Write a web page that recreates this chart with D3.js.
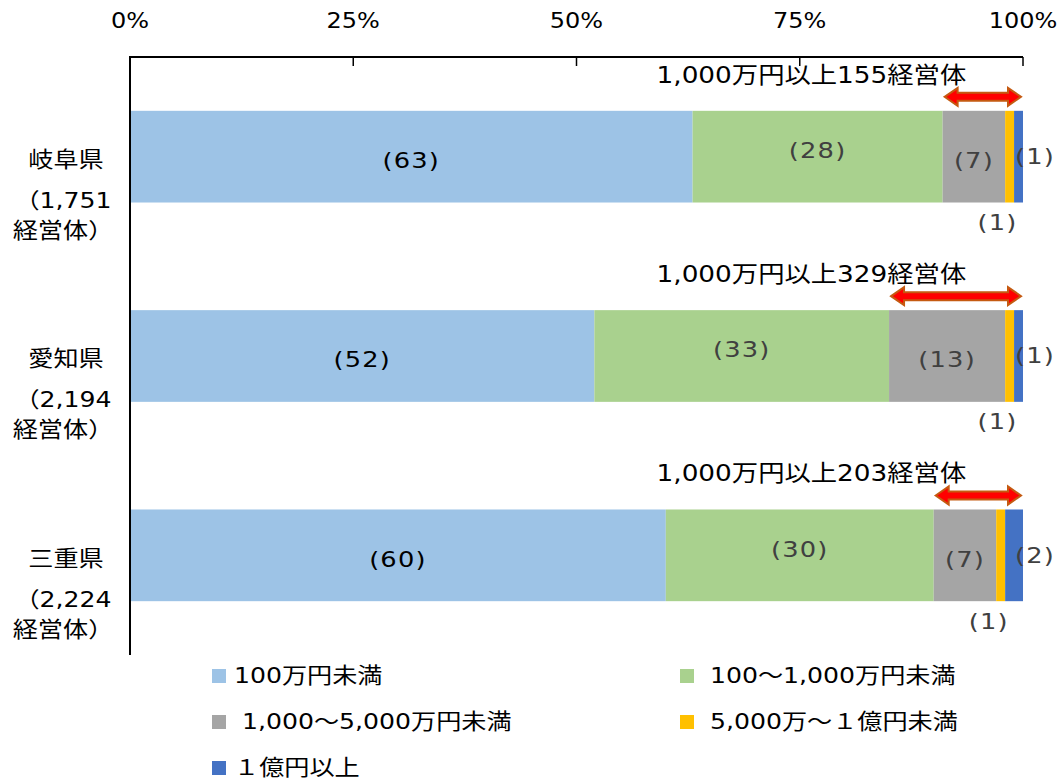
<!DOCTYPE html>
<html lang="ja">
<head>
<meta charset="UTF-8">
<title>販売金額規模別経営体数の割合</title>
<script src="https://cdn.jsdelivr.net/npm/d3@7"></script>
<style>
  body { margin: 0; background: #fff; }
  svg { display: block; }
  text { font-family: "DejaVu Sans", "Noto Sans CJK JP", sans-serif; white-space: pre; }
</style>
</head>
<body>
<div id="chart"></div>
<script>
// data (percent of farms, by sales class)
const prefectures = ["岐阜県", "愛知県", "三重県"];
const farmTotals = ["1,751", "2,194", "2,224"];
const over1000Counts = [155, 329, 203];
const classNames = ["100万円未満", " 100～1,000万円未満", " 1,000～5,000万円未満", " 5,000万～１億円未満", "１億円以上"];
const under100 = [63, 52, 60];
const from100to1000 = [28, 33, 30];
const from1000to5000 = [7, 13, 7];
const from5000to1oku = [1, 1, 1];
const over1oku = [1, 1, 2];
const tickValues = [0, 25, 50, 75, 100];

const colors = ["#9DC3E6", "#A9D18E", "#A5A5A5", "#FFC000", "#4472C4"];
const keys = ["c0", "c1", "c2", "c3", "c4"];
const rows = prefectures.map((p, i) => ({
  pref: p,
  c0: under100[i], c1: from100to1000[i], c2: from1000to5000[i],
  c3: from5000to1oku[i], c4: over1oku[i]
}));

const W = 1062, H = 781;
const SX = 1.17;      // the source text is a little wide
const FS = 21.5;

const svg = d3.select("#chart").append("svg")
  .attr("width", W).attr("height", H);

const x = d3.scaleLinear().domain([0, 100]).range([130, 1023]);
const y = d3.scaleBand().domain(prefectures).range([57, 655])
  .paddingInner(0.54).paddingOuter(0.27);

function txt(g, px, py, s, anchor, color, size) {
  return g.append("text")
    .attr("transform", `translate(${px},${py}) scale(${SX},1)`)
    .attr("text-anchor", anchor || "middle")
    .attr("dominant-baseline", "central")
    .attr("fill", color || "#000")
    .style("font-size", (size || FS) + "px")
    .text(s);
}

// bars
const series = d3.stack().keys(keys)(rows);
series.forEach((s, k) => {
  svg.append("g").selectAll("rect")
    .data(s)
    .join("rect")
    .attr("x", d => x(d[0]))
    .attr("y", d => y(d.data.pref))
    .attr("width", d => x(d[1]) - x(d[0]))
    .attr("height", y.bandwidth())
    .attr("fill", colors[k]);
});

// data labels
const lab = svg.append("g").style("letter-spacing", "1px");
series.forEach((s, k) => {
  s.forEach(d => {
    const cy = y(d.data.pref) + y.bandwidth() / 2;
    const v = `(${d[1] - d[0]})`;
    if (k < 3) {
      const cx = (x(d[0]) + x(d[1])) / 2;
      txt(lab, cx, cy + (k === 1 ? -6 : 4), v, "middle", k === 0 ? "#000" : "#404040", 22);
    } else if (k === 3) {
      txt(lab, (x(d[0]) + x(d[1])) / 2 - 12, y(d.data.pref) + y.bandwidth() + 20, v, "middle", "#404040", 22);
    } else {
      txt(lab, x(100) + 12, cy, v, "middle", "#404040", 22);
    }
  });
});

// axes
const axis = svg.append("g");
axis.append("line")
  .attr("x1", x(0)).attr("x2", x(100)).attr("y1", 57).attr("y2", 57)
  .attr("stroke", "#000").attr("stroke-width", 2);
axis.append("line")
  .attr("x1", x(0)).attr("x2", x(0)).attr("y1", 56).attr("y2", 655)
  .attr("stroke", "#000").attr("stroke-width", 2);
axis.selectAll(".tick").data(tickValues).join("line")
  .attr("x1", d => x(d)).attr("x2", d => x(d))
  .attr("y1", 57).attr("y2", 66)
  .attr("stroke", "#000").attr("stroke-width", 1.5);
tickValues.forEach(t => txt(axis, x(t), 21, t + "%", "middle", "#000", 20.5));

// category labels
prefectures.forEach((p, i) => {
  const cy = y(p) + y.bandwidth() / 2;
  txt(svg, 66, cy + 3, p);
  txt(svg, 63, cy + 44, "（" + farmTotals[i]);
  txt(svg, 63, cy + 74, "経営体）");
});

// 1,000万円以上 annotation with double arrow
const ann = svg.append("g");
prefectures.forEach((p, i) => {
  const top = y(p);
  const x0 = x(under100[i] + from100to1000[i]) + 2, x1 = x(100) - 2;
  const ay = top - 14, hb = 4, hh = 9, hl = 13;
  const path = `M${x0},${ay} L${x0 + hl},${ay - hh} L${x0 + hl},${ay - hb} L${x1 - hl},${ay - hb}
    L${x1 - hl},${ay - hh} L${x1},${ay} L${x1 - hl},${ay + hh} L${x1 - hl},${ay + hb}
    L${x0 + hl},${ay + hb} L${x0 + hl},${ay + hh} Z`;
  ann.append("path").attr("d", path)
    .attr("fill", "#FF0000").attr("stroke", "#C55A11").attr("stroke-width", 2)
    .attr("stroke-linejoin", "miter");
  txt(ann, x(76.3), top - 36, `1,000万円以上${over1000Counts[i]}経営体`, "middle", "#000", 22.5);
});

// legend
const leg = svg.append("g");
classNames.forEach((c, i) => {
  const lx = i % 2 === 0 ? 212 : 680;
  const ly = 676 + Math.floor(i / 2) * 46;
  leg.append("rect").attr("x", lx).attr("y", ly - 7).attr("width", 14).attr("height", 14)
    .attr("fill", colors[i]);
  txt(leg, lx + 22, ly, c, "start", "#000", 21.5);
});
</script>
</body>
</html>
